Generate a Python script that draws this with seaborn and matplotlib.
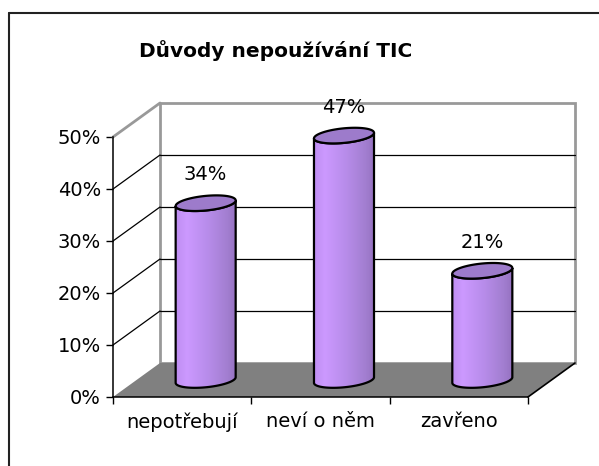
import numpy as np
import matplotlib
matplotlib.use("Agg")
import matplotlib.pyplot as plt
import seaborn as sns
from matplotlib.patches import Polygon, Rectangle
from matplotlib.colors import LinearSegmentedColormap
from matplotlib.lines import Line2D

# ---------------- data ----------------
categories = ["nepotřebují", "neví o něm", "zavřeno"]
values = [34, 47, 21]
value_labels = ["34%", "47%", "21%"]
y_ticks = [0, 10, 20, 30, 40, 50]
y_tick_labels = ["0%", "10%", "20%", "30%", "40%", "50%"]
title = "Důvody nepoužívání TIC"

sns.set_style("white")
plt.rcParams["font.family"] = ["DejaVu Sans"]
plt.rcParams.update({"text.color": "black", "axes.labelcolor": "black",
                     "xtick.color": "black", "ytick.color": "black"})

W, H = 599, 466
fig = plt.figure(figsize=(W / 100, H / 100), dpi=100)
ax = fig.add_axes([0, 0, 1, 1])

# ---------------- layout constants (pixels) ----------------
X0, Y0 = 113, 397          # front-left floor corner in pixels
PX_CAT = 138.33            # pixels per category
PX_PCT = 5.2               # pixels per percent
DX = 47 / PX_CAT           # depth offset (category units)
DY = 34 / PX_PCT           # depth offset (percent units)
VMAX = y_ticks[-1]
n = len(categories)
XL, XR = -0.5, n - 0.5
R = 28 / PX_CAT            # cylinder radius along x
RZ = 0.23                  # cylinder radius along depth (fraction)
ZC = 0.5                   # cylinder depth position

body_cmap = LinearSegmentedColormap.from_list(
    "cyl", [(0.0, "#BF8EF2"), (0.18, "#CC99FF"), (0.55, "#B68BE8"),
            (0.85, "#A27ED0"), (1.0, "#9571C0")])

# seaborn bars (later reshaped into cylinder bodies)
sns.barplot(x=categories, y=values, ax=ax, width=0.4, color="#B68BE8",
            linewidth=0, zorder=3)
bars = list(ax.patches)
ax.set_xlabel("")
ax.set_ylabel("")

# ---------------- walls and floor ----------------
ax.add_patch(Rectangle((XL + DX, DY), XR - XL, VMAX, facecolor="white",
                       edgecolor="#999999", lw=2, zorder=0.5))
for v in y_ticks[1:-1]:
    ax.plot([XL + DX, XR + DX], [v + DY, v + DY], color="black", lw=0.9,
            zorder=0.6)
for v in y_ticks[1:]:
    col = "#999999" if v == VMAX else "black"
    ax.plot([XL, XL + DX], [v, v + DY], color=col,
            lw=2 if v == VMAX else 0.9, zorder=0.6)
ax.add_patch(Polygon([(XL, 0), (XR, 0), (XR + DX, DY), (XL + DX, DY)],
                     closed=True, facecolor="#808080", edgecolor="none",
                     zorder=0.7))
ax.plot([XR, XR + DX], [0, DY], color="black", lw=1.2, zorder=0.8)

# ---------------- cylinders ----------------
tstar = np.arctan2(RZ * DX * PX_CAT, R * PX_CAT)


def ell(c, v, t):
    z = ZC + RZ * np.sin(t)
    return c + R * np.cos(t) + z * DX, v + z * DY


for p, val, lab in zip(bars, values, value_labels):
    c = p.get_x() + p.get_width() / 2
    xl, _ = ell(c, 0, tstar + np.pi)
    xr, _ = ell(c, 0, tstar)
    p.set_x(xl)
    p.set_width(xr - xl)
    p.set_y(ZC * DY)
    p.set_height(val)
    p.set_alpha(0)

    tf = np.linspace(tstar + np.pi, tstar + 2 * np.pi, 80)
    bx, by = ell(c, 0, tf)
    tx, ty = ell(c, val, tf[::-1])
    body = Polygon(np.column_stack([np.r_[bx, tx], np.r_[by, ty]]),
                   closed=True, facecolor="none", edgecolor="black",
                   lw=1.6, zorder=3.2)
    ax.add_patch(body)
    grad = np.linspace(0, 1, 256).reshape(1, -1)
    im = ax.imshow(grad, cmap=body_cmap, aspect="auto",
                   extent=[xl, xr, by.min() - 1, ty.max() + 1],
                   zorder=3.1, interpolation="bilinear")
    im.set_clip_path(body)

    ta = np.linspace(0, 2 * np.pi, 160)
    ex, ey = ell(c, val, ta)
    ax.add_patch(Polygon(np.column_stack([ex, ey]), closed=True,
                         facecolor="#9D7BCB", edgecolor="black", lw=1.6,
                         zorder=3.3))
    ax.annotate(lab, (c + ZC * DX, ey.max()),
                xytext=(0, 8), textcoords="offset points", ha="center",
                va="bottom", fontsize=14, zorder=4, color="black")

# ---------------- axes ----------------
ax.set_xlim((0 - X0) / PX_CAT + XL, (W - X0) / PX_CAT + XL)
ax.set_ylim((Y0 - H) / PX_PCT, Y0 / PX_PCT)

for s in ["top", "right"]:
    ax.spines[s].set_visible(False)
ax.spines["left"].set_position(("data", XL))
ax.spines["left"].set_bounds(0, VMAX)
ax.spines["bottom"].set_position(("data", 0))
ax.spines["bottom"].set_bounds(XL, XR)
for s in ["left", "bottom"]:
    ax.spines[s].set_color("black")
    ax.spines[s].set_linewidth(1.1)
    ax.spines[s].set_zorder(1)

ax.set_yticks(y_ticks, labels=y_tick_labels)
ax.set_xticks(np.arange(n + 1) - 0.5, labels=[""] * (n + 1))
ax.set_xticks(np.arange(n), labels=categories, minor=True)
ax.tick_params(axis="y", direction="out", length=5, width=1, pad=3.6,
               labelsize=14, left=True, colors="black")
ax.tick_params(axis="x", which="major", direction="out", length=5, width=1,
               bottom=True, colors="black")
ax.tick_params(axis="x", which="minor", length=0, pad=11, labelsize=14,
               labelcolor="black")
ax.grid(False)

# ---------------- title and frame ----------------
fig.text(276 / W, 1 - 57 / H, title, ha="center", va="baseline",
         fontsize=14.5, fontweight="bold", color="black")
fig.add_artist(Line2D([9 / W, 9 / W], [0, 1 - 13 / H], transform=fig.transFigure,
                      color="#222222", lw=1.5))
fig.add_artist(Line2D([9 / W, 1], [1 - 13 / H, 1 - 13 / H],
                      transform=fig.transFigure, color="#222222", lw=1.5))

fig.savefig("out.png", dpi=100)
